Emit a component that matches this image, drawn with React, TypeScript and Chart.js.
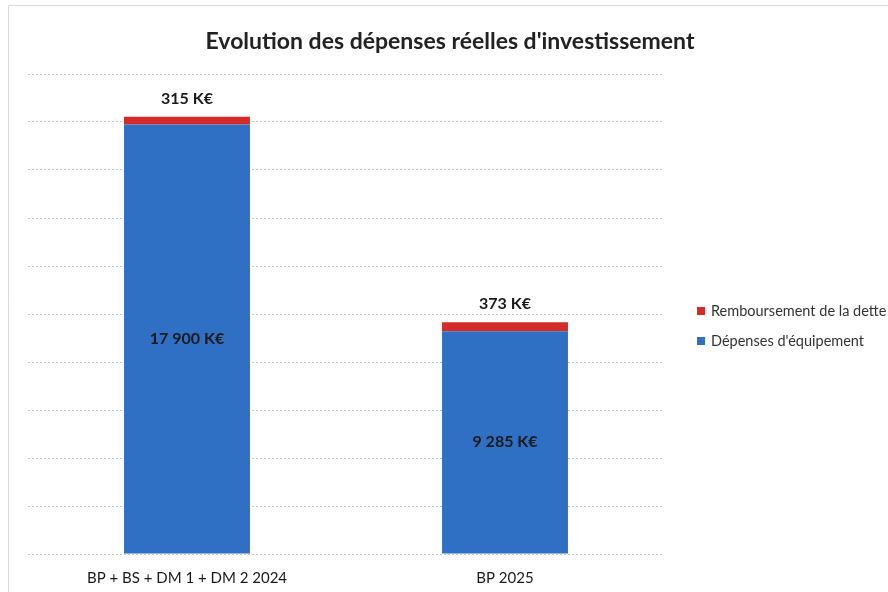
import React, { useEffect, useRef } from "react";
import { Chart, registerables } from "chart.js";

Chart.register(...registerables);

const categories = ["BP + BS + DM 1 + DM 2 2024", "BP 2025"];
const equipement = [17900, 9285];
const remboursement = [315, 373];
const seriesNames = ["Dépenses d'équipement", "Remboursement de la dette"];
const seriesColors = ["#2f6fc4", "#d42a2a"];
const titleText = "Evolution des dépenses réelles d'investissement";

const fmt = (v: number) => v.toLocaleString("fr-FR").replace(/[\u202f\u00a0]/g, " ") + " K€";

const labelsPlugin = {
  id: "barLabels",
  afterDatasetsDraw(chart: any) {
    const ctx = chart.ctx;
    ctx.save();
    ctx.fillStyle = "#1a1a1a";
    ctx.textAlign = "center";
    ctx.textBaseline = "middle";
    ctx.font = "bold 16px Lato";
    chart.getDatasetMeta(0).data.forEach((el: any, i: number) => {
      const cy = (el.y + el.base) / 2;
      ctx.fillText(fmt(equipement[i]), el.x, cy);
    });
    chart.getDatasetMeta(1).data.forEach((el: any, i: number) => {
      ctx.fillText(fmt(remboursement[i]), el.x, el.y - 18);
    });
    ctx.restore();
  },
};

const titleLegendPlugin = {
  id: "titleLegend",
  afterDraw(chart: any) {
    const ctx = chart.ctx;
    const area = chart.chartArea;
    ctx.save();
    // title
    ctx.font = "bold 23px Lato";
    ctx.fillStyle = "#222222";
    ctx.textAlign = "center";
    ctx.textBaseline = "middle";
    ctx.fillText(titleText, 450, 42);
    // legend
    const x = area.right + 33;
    const items = [1, 0];
    ctx.font = "14.5px Lato";
    ctx.textAlign = "left";
    items.forEach((d, k) => {
      const cy = 311 + k * 30;
      ctx.fillStyle = seriesColors[d];
      ctx.fillRect(x, cy - 4, 8, 8);
      ctx.fillStyle = "#333333";
      ctx.fillText(seriesNames[d], x + 14, cy);
    });
    ctx.restore();
  },
};

const framePlugin = {
  id: "frame",
  beforeDraw(chart: any) {
    const ctx = chart.ctx;
    ctx.save();
    ctx.fillStyle = "#ffffff";
    ctx.fillRect(0, 0, chart.width, chart.height);
    ctx.strokeStyle = "#d6d9de";
    ctx.lineWidth = 1;
    ctx.beginPath();
    ctx.moveTo(8.5, chart.height);
    ctx.lineTo(8.5, 5.5);
    ctx.lineTo(chart.width, 5.5);
    ctx.stroke();
    ctx.restore();
  },
};

export default function App() {
  const ref = useRef<HTMLCanvasElement>(null);
  useEffect(() => {
    document.body.style.margin = "0";
    const chart = new Chart(ref.current!, {
      type: "bar",
      data: {
        labels: categories,
        datasets: [
          {
            label: seriesNames[0],
            data: equipement,
            backgroundColor: seriesColors[0],
            borderWidth: 0,
          },
          {
            label: seriesNames[1],
            data: remboursement,
            backgroundColor: seriesColors[1],
            borderWidth: 0,
          },
        ],
      },
      options: {
        animation: false,
        responsive: false,
        maintainAspectRatio: false,
        datasets: { bar: { barPercentage: 0.792, categoryPercentage: 0.5 } },
        layout: { padding: { top: 74, left: 28, right: 224, bottom: -10 } },
        plugins: {
          title: { display: false },
          legend: { display: false },
          tooltip: { enabled: false },
        },
        scales: {
          x: {
            stacked: true,
            grid: { display: false, drawTicks: false },
            border: { display: false },
            ticks: {
              color: "#1a1a1a",
              padding: 15,
              font: { family: "Lato", size: 15 },
            },
          },
          y: {
            stacked: true,
            min: 0,
            max: 20000,
            ticks: { display: false, stepSize: 2000 },
            grid: { color: "#c8c8c8", drawTicks: false, lineWidth: 1 },
            border: { display: false, dash: [2, 2] },
          },
        },
      },
      plugins: [framePlugin, labelsPlugin, titleLegendPlugin],
    });
    return () => chart.destroy();
  }, []);
  return (
    <div style={{ width: 888, height: 592 }}>
      <canvas ref={ref} width={888} height={592} />
    </div>
  );
}
